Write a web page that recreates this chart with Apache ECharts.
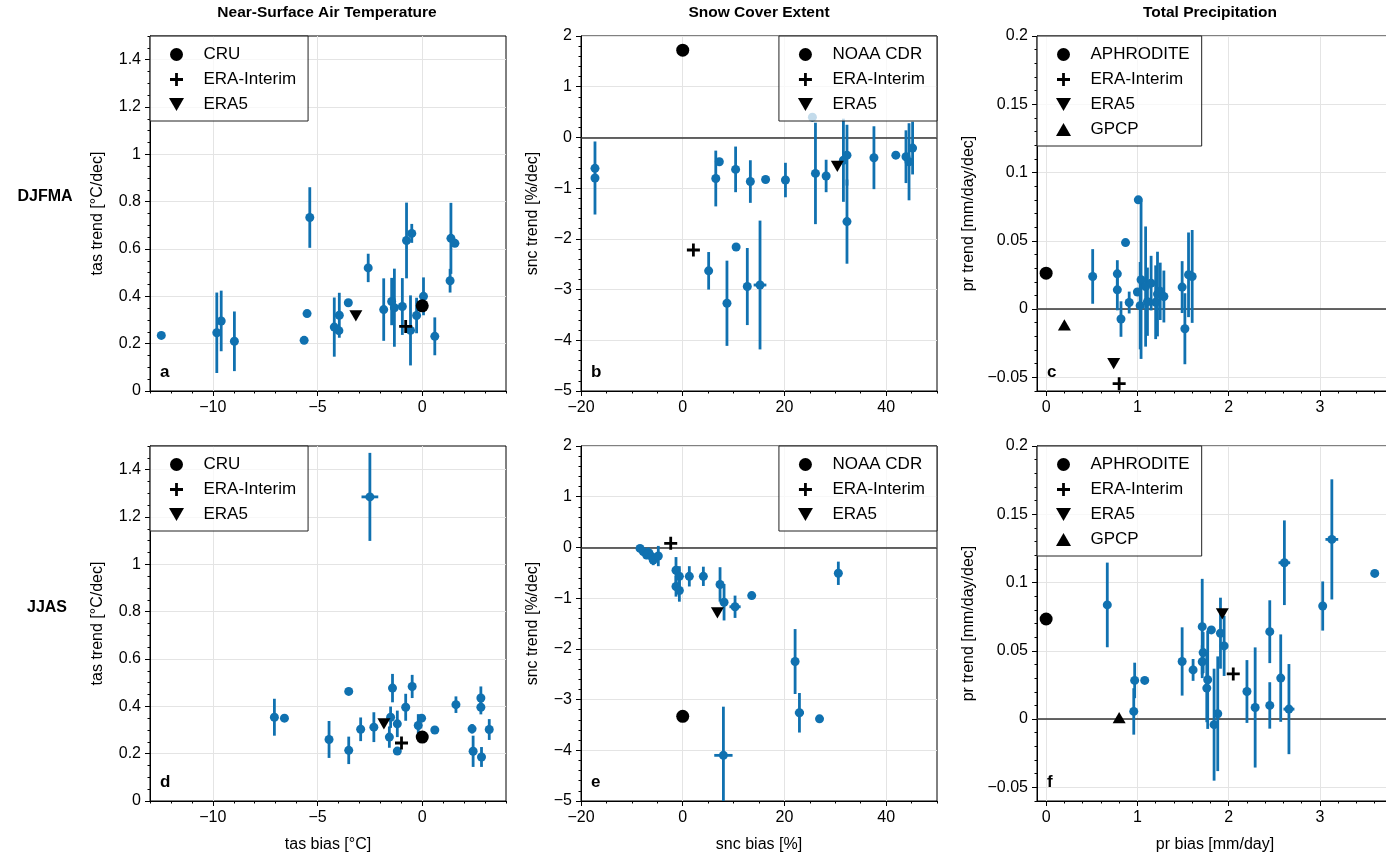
<!DOCTYPE html>
<html>
<head>
<meta charset="utf-8">
<script src="https://cdn.jsdelivr.net/npm/echarts@6.0.0/dist/echarts.min.js"></script>
<style>
  html, body { margin: 0; padding: 0; background: #fff; overflow: hidden; }
  #chart { width: 1400px; height: 856px; }
</style>
</head>
<body>
<div id="chart"></div>
<script>
// model points: [bias, trend, trend half-range, bias half-range]
const tasDJFMA = [
  [-12.46, 0.235, 0, 0], [-9.81, 0.246, 0.17, 0], [-9.60, 0.296, 0.128, 0], [-8.97, 0.210, 0.126, 0],
  [-5.37, 0.733, 0.128, 0], [-5.50, 0.327, 0, 0], [-5.64, 0.214, 0, 0], [-4.20, 0.270, 0.125, 0],
  [-3.96, 0.320, 0.095, 0], [-3.98, 0.255, 0, 0], [-3.53, 0.373, 0, 0], [-2.58, 0.520, 0.060, 0],
  [-1.84, 0.344, 0.132, 0], [-1.46, 0.378, 0.100, 0], [-1.33, 0.352, 0.165, 0], [-0.95, 0.357, 0.120, 0],
  [-0.75, 0.636, 0.160, 0], [-0.50, 0.666, 0.040, 0], [-0.56, 0.256, 0.148, 0], [-0.27, 0.319, 0.075, 0],
  [0.06, 0.400, 0.080, 0], [0.60, 0.231, 0.080, 0], [1.33, 0.466, 0.050, 0], [1.37, 0.645, 0.150, 0],
  [1.56, 0.624, 0, 0]
];
const sncDJFMA = [
  [-17.25, -0.61, 0, 0], [-17.25, -0.80, 0.72, 0], [5.1, -2.63, 0.37, 0], [6.5, -0.81, 0.55, 0],
  [7.2, -0.48, 0, 0], [8.7, -3.27, 0.84, 0], [10.4, -0.63, 0.45, 0], [10.5, -2.16, 0, 0],
  [12.7, -2.94, 0.76, 0], [13.3, -0.87, 0.42, 0], [15.2, -2.91, 1.27, 1.25], [16.3, -0.83, 0, 0],
  [20.2, -0.84, 0.34, 0], [25.5, 0.40, 0, 0], [26.1, -0.71, 1.0, 0], [28.2, -0.76, 0.32, 0],
  [31.6, -0.45, 0.82, 0], [32.3, -0.35, 0.60, 0], [32.3, -1.66, 0.83, 0], [37.6, -0.40, 0.62, 0],
  [41.9, -0.35, 0, 0], [43.9, -0.38, 0.52, 0], [44.5, -0.48, 0.76, 0], [45.2, -0.21, 0.52, 0]
];
const prDJFMA = [
  [0.51, 0.0239, 0.020, 0], [0.78, 0.0258, 0.010, 0], [0.78, 0.0141, 0.015, 0], [0.82, -0.0073, 0.013, 0],
  [0.87, 0.0487, 0, 0], [0.91, 0.0048, 0.008, 0], [1.01, 0.080, 0, 0], [1.04, 0.0215, 0.058, 0],
  [1.00, 0.0125, 0, 0], [1.03, 0.0025, 0.032, 0], [1.09, 0.0165, 0.044, 0], [1.11, 0.0054, 0.025, 0],
  [1.15, 0.019, 0.020, 0], [1.20, 0.005, 0.027, 0], [1.22, 0.011, 0.031, 0], [1.25, 0.013, 0.021, 0],
  [1.29, 0.0092, 0.019, 0], [1.49, 0.0161, 0.019, 0], [1.52, -0.0144, 0.026, 0], [1.56, 0.0251, 0.031, 0],
  [1.60, 0.0239, 0.034, 0]
];
const tasJJAS = [
  [-2.50, 1.285, 0.186, 0.40], [-7.06, 0.354, 0.078, 0], [-6.58, 0.350, 0, 0], [-4.45, 0.260, 0.078, 0],
  [-3.51, 0.463, 0, 0], [-3.51, 0.214, 0.058, 0], [-2.94, 0.303, 0.050, 0], [-2.31, 0.312, 0.063, 0],
  [-1.57, 0.270, 0.045, 0], [-1.51, 0.354, 0.045, 0], [-1.42, 0.477, 0.060, 0], [-1.19, 0.326, 0.056, 0],
  [-1.19, 0.211, 0, 0], [-0.79, 0.396, 0.057, 0], [-0.48, 0.484, 0.049, 0], [-0.19, 0.319, 0.048, 0],
  [-0.03, 0.350, 0, 0], [0.60, 0.300, 0, 0], [1.61, 0.407, 0.035, 0], [2.38, 0.305, 0.020, 0],
  [2.43, 0.210, 0.066, 0], [2.80, 0.435, 0.049, 0], [2.80, 0.396, 0.030, 0], [2.83, 0.186, 0.042, 0],
  [3.20, 0.302, 0.044, 0]
];
const sncJJAS = [
  [-8.39, -0.02, 0.06, 0], [-7.75, -0.08, 0.08, 0], [-7.1, -0.15, 0.08, 0], [-6.76, -0.10, 0.10, 0],
  [-6.1, -0.18, 0.12, 0], [-5.8, -0.25, 0.10, 0], [-4.8, -0.17, 0.20, 0], [-1.32, -0.45, 0.26, 0],
  [-0.66, -0.57, 0.20, 0], [-1.32, -0.77, 0.20, 0], [-0.66, -0.85, 0.22, 0], [1.3, -0.57, 0.20, 0],
  [4.06, -0.57, 0.19, 0], [7.34, -0.73, 0.34, 0], [8.13, -1.08, 0.36, 0], [10.29, -1.17, 0.22, 1.1],
  [13.57, -0.95, 0, 0], [22.1, -2.25, 0.64, 0], [22.95, -3.26, 0.39, 0.9], [26.9, -3.38, 0, 0],
  [30.6, -0.51, 0.23, 0], [8.0, -4.10, 0.96, 1.8]
];
const prJJAS = [
  [0.67, 0.0836, 0.031, 0], [0.97, 0.0283, 0.013, 0], [0.96, 0.0056, 0.017, 0], [1.08, 0.0283, 0, 0],
  [1.49, 0.0422, 0.025, 0], [1.61, 0.0360, 0.008, 0], [1.71, 0.0677, 0.035, 0], [1.72, 0.0487, 0.015, 0],
  [1.71, 0.0420, 0.012, 0], [1.77, 0.0288, 0.036, 0], [1.76, 0.0227, 0.025, 0], [1.81, 0.0653, 0, 0],
  [1.84, -0.0041, 0.041, 0], [1.88, 0.0039, 0.042, 0], [1.91, 0.0629, 0.026, 0], [1.95, 0.0536, 0.022, 0],
  [2.20, 0.0202, 0.023, 0], [2.29, 0.0085, 0.044, 0], [2.45, 0.0640, 0.023, 0], [2.45, 0.0100, 0.017, 0],
  [2.57, 0.0300, 0.032, 0], [2.61, 0.1145, 0.031, 0.064], [2.66, 0.0073, 0.033, 0.06], [3.03, 0.0828, 0.018, 0],
  [3.13, 0.1316, 0.044, 0.07], [3.60, 0.1067, 0, 0]
];

// observations / reanalyses
const tasRefNames = ['CRU', 'ERA-Interim', 'ERA5'];
const tasRefDJFMA = [[0, 0.36], [-0.79, 0.273], [-3.17, 0.317]];
const tasRefJJAS = [[0, 0.27], [-0.99, 0.245], [-1.83, 0.326]];
const sncRefNames = ['NOAA CDR', 'ERA-Interim', 'ERA5'];
const sncRefDJFMA = [[0, 1.72], [2.1, -2.22], [30.4, -0.57]];
const sncRefJJAS = [[0, -3.33], [-2.36, 0.08], [6.82, -1.29]];
const prRefNames = ['APHRODITE', 'ERA-Interim', 'ERA5', 'GPCP'];
const prRefDJFMA = [[0, 0.0263], [0.80, -0.0546], [0.74, -0.040], [0.20, -0.0115]];
const prRefJJAS = [[0, 0.0733], [2.05, 0.0331], [1.93, 0.077], [0.80, 0.001]];

// tick labels
const tasBiasTicks = [-10, -5, 0];
const tasTrendTicks = [0, 0.2, 0.4, 0.6, 0.8, 1, 1.2, 1.4];
const sncBiasTicks = [-20, 0, 20, 40];
const sncTrendTicks = [-5, -4, -3, -2, -1, 0, 1, 2];
const prBiasTicks = [0, 1, 2, 3];
const prTrendTicks = [-0.05, 0, 0.05, 0.1, 0.15, 0.2];

const FONT = '"Liberation Sans", Arial, Helvetica, sans-serif';
const BLUE = '#1071b0';
const PLUS = 'path://M5.5,0H8.5V5.5H14V8.5H8.5V14H5.5V8.5H0V5.5H5.5Z';
const DOWN = 'path://M0,0L12,0L6,10.4Z';
const UP = 'path://M6,0L12,10.4L0,10.4Z';
const refSymbol = { 'CRU': 'circle', 'NOAA CDR': 'circle', 'APHRODITE': 'circle', 'ERA-Interim': PLUS, 'ERA5': DOWN, 'GPCP': UP };
const refSize = { 'CRU': 13, 'NOAA CDR': 13, 'APHRODITE': 13, 'ERA-Interim': 13, 'ERA5': 13, 'GPCP': 13 };

const colLeft = [150, 581, 1037];
const rowTop = [36, 446];
const W = 356, H = 355;

const panels = [
  { m: tasDJFMA, refs: tasRefDJFMA, names: tasRefNames, xr: [-13, 4], yr: [0, 1.5], xt: tasBiasTicks, yt: tasTrendTicks, xs: 1, ys: 0.05, row: 0, col: 0, zero: false, leg: 'left', letter: 'a', yname: 'tas trend [°C/dec]', ygap: 44 },
  { m: sncDJFMA, refs: sncRefDJFMA, names: sncRefNames, xr: [-20, 50], yr: [-5, 2], xt: sncBiasTicks, yt: sncTrendTicks, xs: 5, ys: 0.2, row: 0, col: 1, zero: true, leg: 'right', letter: 'b', yname: 'snc trend [%/dec]', ygap: 40 },
  { m: prDJFMA, refs: prRefDJFMA, names: prRefNames, xr: [-0.1, 3.8], yr: [-0.06, 0.2], xt: prBiasTicks, yt: prTrendTicks, xs: 0.2, ys: 0.01, row: 0, col: 2, zero: true, leg: 'left', letter: 'c', yname: 'pr trend [mm/day/dec]', ygap: 60 },
  { m: tasJJAS, refs: tasRefJJAS, names: tasRefNames, xr: [-13, 4], yr: [0, 1.5], xt: tasBiasTicks, yt: tasTrendTicks, xs: 1, ys: 0.05, row: 1, col: 0, zero: false, leg: 'left', letter: 'd', yname: 'tas trend [°C/dec]', ygap: 44, xname: 'tas bias [°C]' },
  { m: sncJJAS, refs: sncRefJJAS, names: sncRefNames, xr: [-20, 50], yr: [-5, 2], xt: sncBiasTicks, yt: sncTrendTicks, xs: 5, ys: 0.2, row: 1, col: 1, zero: true, leg: 'right', letter: 'e', yname: 'snc trend [%/dec]', ygap: 40, xname: 'snc bias [%]' },
  { m: prJJAS, refs: prRefJJAS, names: prRefNames, xr: [-0.1, 3.8], yr: [-0.06, 0.2], xt: prBiasTicks, yt: prTrendTicks, xs: 0.2, ys: 0.01, row: 1, col: 2, zero: true, leg: 'left', letter: 'f', yname: 'pr trend [mm/day/dec]', ygap: 60, xname: 'pr bias [mm/day]' }
];

function steps(a, b, s) {
  const out = [];
  for (let k = Math.ceil(a / s - 1e-9); k * s <= b + 1e-9; k++) out.push(+(k * s).toFixed(6));
  return out;
}
function fmt(v) { return String(v).replace('-', '\u2212'); }

function errorBars(params, api) {
  const x = api.value(0), y = api.value(1), ey = api.value(2), ex = api.value(3);
  const kids = [];
  const st = { stroke: BLUE, lineWidth: 2.8 };
  if (ey > 0) {
    const a = api.coord([x, y - ey]), b = api.coord([x, y + ey]);
    kids.push({ type: 'line', shape: { x1: a[0], y1: a[1], x2: b[0], y2: b[1] }, style: st });
  }
  if (ex > 0) {
    const a = api.coord([x - ex, y]), b = api.coord([x + ex, y]);
    kids.push({ type: 'line', shape: { x1: a[0], y1: a[1], x2: b[0], y2: b[1] }, style: st });
  }
  return { type: 'group', children: kids };
}

const grid = [], xAxis = [], yAxis = [], series = [], legend = [], graphic = [];

panels.forEach((p, i) => {
  const left = colLeft[p.col], top = rowTop[p.row];
  grid.push({ left: left, top: top, width: W, height: H, show: true, borderColor: '#000', borderWidth: 1, backgroundColor: 'transparent' });

  const major = (ticks, range, name, gap, isX) => ({
    type: 'value', gridIndex: i, min: range[0], max: range[1],
    position: isX ? 'bottom' : 'left',
    name: name || '', nameLocation: 'middle', nameGap: gap,
    nameTextStyle: { fontFamily: FONT, fontSize: 16, color: '#000' },
    axisLine: { show: true, onZero: false, lineStyle: { color: '#000', width: 1 } },
    axisTick: { show: true, customValues: ticks, length: 5, lineStyle: { color: '#000', width: 1 } },
    axisLabel: { customValues: ticks, formatter: fmt, fontFamily: FONT, fontSize: 16, color: '#000', margin: 9 },
    splitLine: { show: true, lineStyle: { color: '#e4e4e4', width: 1 } },
    minorTick: { show: false }
  });
  const minor = (range, step, isX) => ({
    type: 'value', gridIndex: i, min: range[0], max: range[1],
    position: isX ? 'bottom' : 'left',
    axisLine: { show: false, onZero: false },
    axisTick: { show: true, customValues: steps(range[0], range[1], step), length: 2.5, lineStyle: { color: '#000', width: 1 } },
    axisLabel: { show: false },
    splitLine: { show: false }
  });

  xAxis.push(major(p.xt, p.xr, p.xname, 36, true));
  xAxis.push(minor(p.xr, p.xs, true));
  yAxis.push(major(p.yt, p.yr, p.yname, p.ygap, false));
  yAxis.push(minor(p.yr, p.ys, false));

  series.push({
    type: 'custom', xAxisIndex: 2 * i, yAxisIndex: 2 * i, clip: true, z: 2, silent: true,
    renderItem: errorBars, encode: { x: 0, y: 1 }, data: p.m
  });
  const dots = {
    type: 'scatter', xAxisIndex: 2 * i, yAxisIndex: 2 * i, z: 3, silent: true,
    symbol: 'circle', symbolSize: 9, itemStyle: { color: BLUE, opacity: 1 },
    data: p.m.map(d => [d[0], d[1]])
  };
  if (p.zero) {
    dots.markLine = {
      silent: true, symbol: 'none', z: 1, animation: false,
      label: { show: false },
      lineStyle: { color: '#333', width: 1.5, type: 'solid' },
      data: [{ yAxis: 0 }]
    };
  }
  series.push(dots);

  p.names.forEach((n, k) => {
    series.push({
      name: n, type: 'scatter', xAxisIndex: 2 * i, yAxisIndex: 2 * i, z: 4, silent: true,
      symbol: refSymbol[n], symbolSize: refSize[n], symbolKeepAspect: true,
      itemStyle: { color: '#000', opacity: 1 },
      data: [p.refs[k]]
    });
  });

  const lg = {
    data: p.names, orient: 'vertical', top: top,
    itemWidth: 44, itemHeight: 13, itemGap: 8,
    padding: [10, 12, 8, 19],
    borderColor: '#222', borderWidth: 1, borderRadius: 0,
    backgroundColor: 'rgba(255,255,255,0.75)',
    textStyle: { fontFamily: FONT, fontSize: 17, color: '#000' },
    selectedMode: false, z: 10
  };
  if (p.leg === 'left') lg.left = left; else lg.right = 1400 - (left + W);
  legend.push(lg);

  graphic.push({
    type: 'text', x: left + 10, y: top + H - 19, z: 20,
    style: { text: p.letter, font: 'bold 17px ' + FONT, fill: '#000', align: 'left', verticalAlign: 'middle' }
  });
});

[['Near-Surface Air Temperature', 327], ['Snow Cover Extent', 759], ['Total Precipitation', 1210]].forEach(t => {
  graphic.push({ type: 'text', x: t[1], y: 13, style: { text: t[0], font: 'bold 15.5px ' + FONT, fill: '#000', align: 'center', verticalAlign: 'middle' } });
});
[['DJFMA', 45, 197], ['JJAS', 47, 608]].forEach(t => {
  graphic.push({ type: 'text', x: t[1], y: t[2], style: { text: t[0], font: 'bold 16px ' + FONT, fill: '#000', align: 'center', verticalAlign: 'middle' } });
});

const chart = echarts.init(document.getElementById('chart'), null, { renderer: 'canvas' });
chart.setOption({
  animation: false,
  backgroundColor: '#fff',
  textStyle: { fontFamily: FONT },
  grid: grid, xAxis: xAxis, yAxis: yAxis,
  legend: legend, series: series, graphic: graphic
});
window.addEventListener('resize', function () { chart.resize(); });
</script>
</body>
</html>
